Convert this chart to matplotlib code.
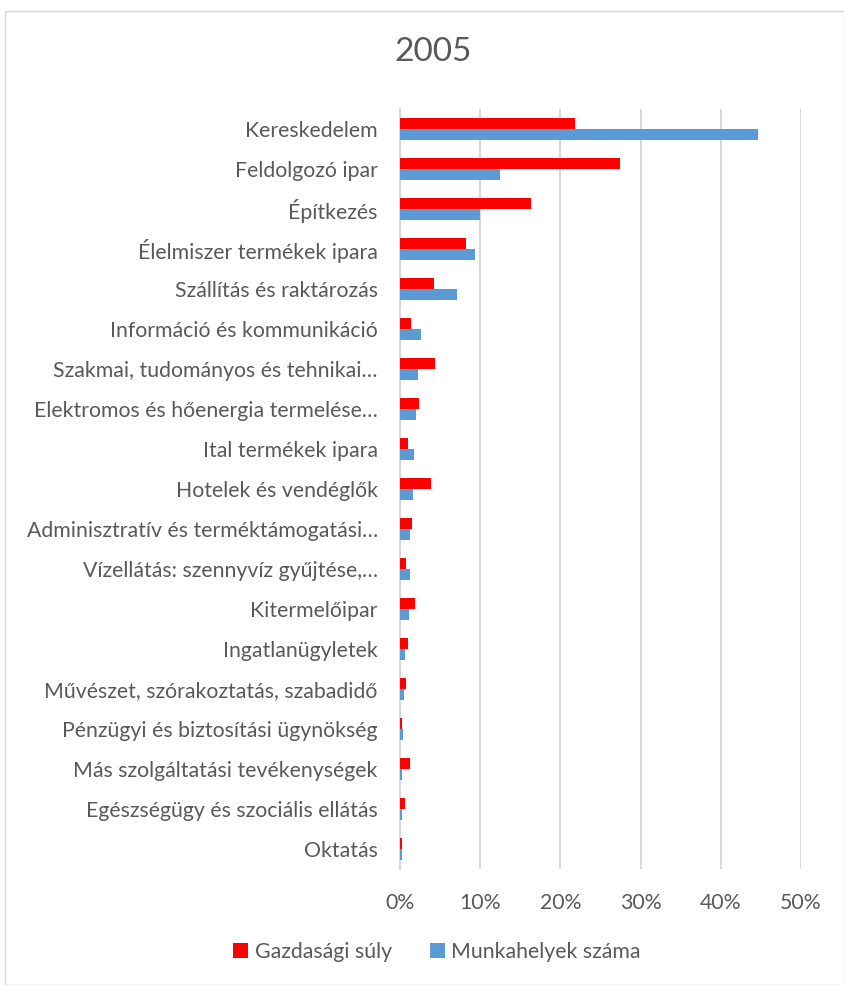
import numpy as np
import matplotlib.pyplot as plt
from matplotlib.ticker import PercentFormatter

plt.rcParams['font.family'] = ['Lato', 'DejaVu Sans']

categories = [
    "Kereskedelem",
    "Feldolgozó ipar",
    "Építkezés",
    "Élelmiszer termékek ipara",
    "Szállítás és raktározás",
    "Információ és kommunikáció",
    "Szakmai, tudományos és tehnikai…",
    "Elektromos és hőenergia termelése…",
    "Ital termékek ipara",
    "Hotelek és vendéglők",
    "Adminisztratív és terméktámogatási…",
    "Vízellátás: szennyvíz gyűjtése,…",
    "Kitermelőipar",
    "Ingatlanügyletek",
    "Művészet, szórakoztatás, szabadidő",
    "Pénzügyi és biztosítási ügynökség",
    "Más szolgáltatási tevékenységek",
    "Egészségügy és szociális ellátás",
    "Oktatás",
]
gazdasagi_suly = [0.218, 0.274, 0.163, 0.082, 0.043, 0.014, 0.044, 0.024, 0.010,
                  0.039, 0.015, 0.007, 0.019, 0.010, 0.008, 0.003, 0.012, 0.006,
                  0.002]
munkahelyek = [0.446, 0.125, 0.100, 0.093, 0.071, 0.026, 0.023, 0.020, 0.018,
               0.016, 0.012, 0.012, 0.011, 0.006, 0.005, 0.004, 0.003, 0.003,
               0.002]

text_col = '#595959'
grid_col = '#d9d9d9'

fig = plt.figure(figsize=(8.44, 9.85), dpi=100)
ax = fig.add_axes([400 / 844, 1 - 869 / 985, 401 / 844, 760 / 985])

y = np.arange(len(categories))
h = 0.27
ax.barh(y - h / 2, gazdasagi_suly, height=h, color='#ff0000',
        label='Gazdasági súly', zorder=3)
ax.barh(y + h / 2, munkahelyek, height=h, color='#5b9bd5',
        label='Munkahelyek száma', zorder=3)

ax.set_ylim(len(categories) - 0.5, -0.5)
ax.set_xlim(0, 0.5)
ax.set_xticks(np.arange(0, 0.51, 0.1))
ax.xaxis.set_major_formatter(PercentFormatter(1.0, decimals=0))
ax.set_yticks(y)
ax.set_yticklabels(categories)
ax.tick_params(axis='both', length=0, colors=text_col, labelsize=15.3)
ax.tick_params(axis='x', pad=17)
ax.tick_params(axis='y', pad=16)
ax.grid(axis='x', color=grid_col, linewidth=1.5, zorder=0)
for s in ['top', 'right', 'bottom']:
    ax.spines[s].set_visible(False)
ax.spines['left'].set_color(grid_col)
ax.spines['left'].set_linewidth(1.5)

fig.text(433 / 844, 1 - 52 / 985, '2005', ha='center', va='center',
         fontsize=24, color=text_col)

leg = fig.legend(loc='center', bbox_to_anchor=(437 / 844, 1 - 952 / 985),
                 ncol=2, frameon=False, fontsize=15.3, handlelength=0.7,
                 handleheight=0.7, handletextpad=0.3, columnspacing=1.8)
for t in leg.get_texts():
    t.set_color(text_col)

border = plt.Rectangle((5 / 844, 0), 1 - 5 / 844, 1 - 11 / 985,
                       transform=fig.transFigure, fill=False,
                       edgecolor=grid_col, linewidth=1)
fig.patches.append(border)

fig.savefig('out.png', dpi=100)
